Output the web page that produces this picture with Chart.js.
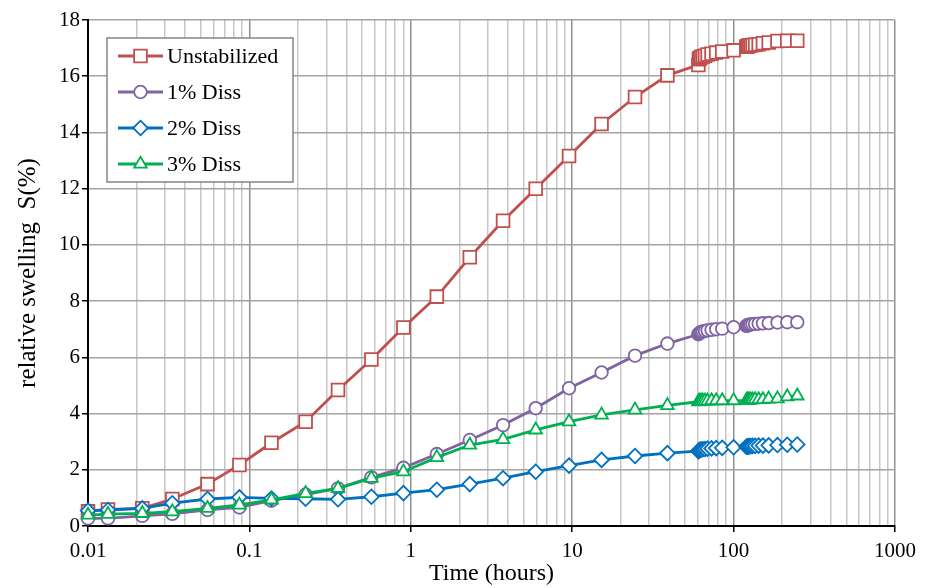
<!DOCTYPE html>
<html>
<head>
<meta charset="utf-8">
<script src="https://cdn.jsdelivr.net/npm/chart.js@4.4.1/dist/chart.umd.min.js"></script>
<style>
  html, body { margin: 0; padding: 0; background: #fff; }
</style>
</head>
<body>
<canvas id="swellChart" width="932" height="588"></canvas>
<script>
// time of each reading (hours)
let hours = [0.01, 0.0133, 0.0217, 0.0333, 0.055, 0.0867, 0.137, 0.223, 0.354, 0.57, 0.9, 1.45, 2.32, 3.73, 5.94, 9.56, 15.2, 24.5, 38.9,
  60.5, 61, 61.5, 62, 63, 64.5, 66.5, 69, 73, 78, 85, 100,
  120, 121, 122, 123.5, 125, 127.5, 131, 136, 143, 152, 165, 187, 215, 248];

let unstabilized = [0.52, 0.59, 0.63, 0.96, 1.49, 2.17, 2.96, 3.71, 4.84, 5.92, 7.06, 8.16, 9.56, 10.86, 12.0, 13.16, 14.3, 15.26, 16.03,
  16.4, 16.6, 16.63, 16.66, 16.68, 16.7, 16.73, 16.77, 16.8, 16.84, 16.88, 16.92,
  17.05, 17.06, 17.07, 17.08, 17.09, 17.1, 17.11, 17.12, 17.14, 17.17, 17.2, 17.25, 17.26, 17.26];

let diss1 = [0.27, 0.27, 0.36, 0.43, 0.57, 0.66, 0.9, 1.12, 1.34, 1.73, 2.07, 2.56, 3.06, 3.59, 4.19, 4.9, 5.46, 6.06, 6.49,
  6.82, 6.84, 6.86, 6.88, 6.9, 6.92, 6.94, 6.96, 6.98, 7.0, 7.02, 7.07,
  7.12, 7.13, 7.14, 7.15, 7.16, 7.17, 7.18, 7.19, 7.2, 7.21, 7.22, 7.24, 7.25, 7.25];

let diss2 = [0.55, 0.57, 0.63, 0.81, 0.96, 1.02, 0.98, 0.97, 0.95, 1.04, 1.17, 1.29, 1.49, 1.7, 1.93, 2.15, 2.35, 2.49, 2.59,
  2.66, 2.68, 2.7, 2.71, 2.72, 2.73, 2.74, 2.75, 2.76, 2.77, 2.78, 2.8,
  2.82, 2.82, 2.83, 2.83, 2.84, 2.84, 2.85, 2.85, 2.86, 2.86, 2.87, 2.88, 2.89, 2.9];

let diss3 = [0.39, 0.42, 0.45, 0.51, 0.63, 0.75, 0.93, 1.16, 1.34, 1.7, 1.93, 2.44, 2.88, 3.08, 3.42, 3.71, 3.95, 4.13, 4.29,
  4.42, 4.43, 4.43, 4.44, 4.44, 4.45, 4.45, 4.45, 4.46, 4.46, 4.46, 4.46,
  4.47, 4.47, 4.48, 4.48, 4.48, 4.49, 4.49, 4.5, 4.5, 4.5, 4.52, 4.53, 4.6, 4.63];

let seriesNames = ["Unstabilized", "1% Diss", "2% Diss", "3% Diss"];
let decades = [0.01, 0.1, 1, 10, 100, 1000];

// 1..9 in every decade for the log grid
let xTicks = [];
for (let e = -2; e <= 2; e++) {
  for (let m = 1; m <= 9; m++) xTicks.push(Number((m * Math.pow(10, e)).toPrecision(4)));
}
xTicks.push(1000);

function isDecade(v) {
  return decades.some(d => Math.abs(d - v) < d * 1e-6);
}
function pts(ys) {
  return ys.map((y, i) => ({ x: hours[i], y: y }));
}

const serif = "'Liberation Serif', 'Times New Roman', serif";

function marker(ctx, style, x, y, r) {
  ctx.beginPath();
  if (style === 'rect') {
    let s = Math.SQRT1_2 * r;
    ctx.rect(x - s, y - s, 2 * s, 2 * s);
  } else if (style === 'circle') {
    ctx.arc(x, y, r, 0, Math.PI * 2);
  } else if (style === 'rectRot') {
    ctx.moveTo(x - r, y); ctx.lineTo(x, y - r); ctx.lineTo(x + r, y); ctx.lineTo(x, y + r);
    ctx.closePath();
  } else {
    for (let k = 0; k < 3; k++) {
      let a = k * 2 * Math.PI / 3;
      let px = x + Math.sin(a) * r, py = y - Math.cos(a) * r;
      if (k === 0) ctx.moveTo(px, py); else ctx.lineTo(px, py);
    }
    ctx.closePath();
  }
  ctx.fill();
  ctx.stroke();
}

// legend box inside the plot, like the original
const legendBox = {
  id: 'legendBox',
  afterDraw(chart) {
    const ctx = chart.ctx;
    ctx.save();
    ctx.fillStyle = '#fff';
    ctx.fillRect(107, 38, 186, 144);
    ctx.strokeStyle = '#878787';
    ctx.lineWidth = 1.5;
    ctx.strokeRect(107, 38, 186, 144);
    chart.data.datasets.forEach((ds, i) => {
      let y = 56 + i * 36;
      ctx.strokeStyle = ds.borderColor;
      ctx.lineWidth = ds.borderWidth;
      ctx.beginPath();
      ctx.moveTo(118, y); ctx.lineTo(163, y);
      ctx.stroke();
      ctx.fillStyle = '#fff';
      ctx.lineWidth = ds.pointBorderWidth;
      marker(ctx, ds.pointStyle, 140.5, y, ds.pointRadius);
      ctx.fillStyle = '#000';
      ctx.font = '22px ' + serif;
      ctx.textBaseline = 'middle';
      ctx.textAlign = 'left';
      ctx.fillText(ds.label, 167, y + 1);
    });
    ctx.restore();
  }
};

function series(label, ys, color, style, radius, order) {
  return {
    label: label,
    data: pts(ys),
    borderColor: color,
    borderWidth: 2.8,
    pointStyle: style,
    pointRadius: radius,
    pointHoverRadius: radius,
    pointBackgroundColor: '#fff',
    pointBorderColor: color,
    pointBorderWidth: 1.8,
    tension: 0,
    clip: false,
    order: order
  };
}

new Chart(document.getElementById("swellChart"), {
  type: 'line',
  data: {
    datasets: [
      series(seriesNames[0], unstabilized, '#C0504D', 'rect', 9, 4),
      series(seriesNames[1], diss1, '#8064A2', 'circle', 6.3, 3),
      series(seriesNames[2], diss2, '#0070C0', 'rectRot', 7.3, 2),
      series(seriesNames[3], diss3, '#00B050', 'triangle', 7.3, 1)
    ]
  },
  options: {
    responsive: false,
    animation: false,
    layout: { padding: { left: 0, right: 37, top: 20, bottom: 0 } },
    plugins: {
      legend: { display: false },
      tooltip: { enabled: false }
    },
    scales: {
      x: {
        type: 'logarithmic',
        min: 0.01,
        max: 1000,
        afterBuildTicks: function(axis) {
          axis.ticks = xTicks.map(v => ({ value: v }));
        },
        afterFit: function(axis) { axis.height = 62; },
        border: { color: '#000', width: 2 },
        grid: {
          color: ctx => (ctx.tick && isDecade(ctx.tick.value)) ? '#8f8f8f' : '#c6c6c6',
          lineWidth: 1.5,
          tickLength: 6,
          tickColor: ctx => (ctx.tick && isDecade(ctx.tick.value)) ? '#000' : 'rgba(0,0,0,0)'
        },
        ticks: {
          autoSkip: false,
          maxRotation: 0,
          minRotation: 0,
          padding: 7,
          color: '#000',
          font: { family: serif, size: 21 },
          callback: v => isDecade(v) ? String(v) : ''
        },
        title: {
          display: true,
          text: 'Time (hours)',
          color: '#000',
          font: { family: serif, size: 24 },
          padding: { top: 0, bottom: 0 }
        }
      },
      y: {
        min: 0,
        max: 18,
        afterFit: function(axis) { axis.width = 88; },
        border: { color: '#000', width: 2 },
        grid: {
          color: '#a3a3a3',
          lineWidth: 1.5,
          tickLength: 6,
          tickColor: '#000'
        },
        ticks: {
          stepSize: 2,
          padding: 2,
          color: '#000',
          font: { family: serif, size: 21 }
        },
        title: {
          display: true,
          text: 'relative swelling  S(%)',
          color: '#000',
          font: { family: serif, size: 25 },
          padding: { top: 13, bottom: 0 }
        }
      }
    }
  },
  plugins: [legendBox]
});
</script>
</body>
</html>
